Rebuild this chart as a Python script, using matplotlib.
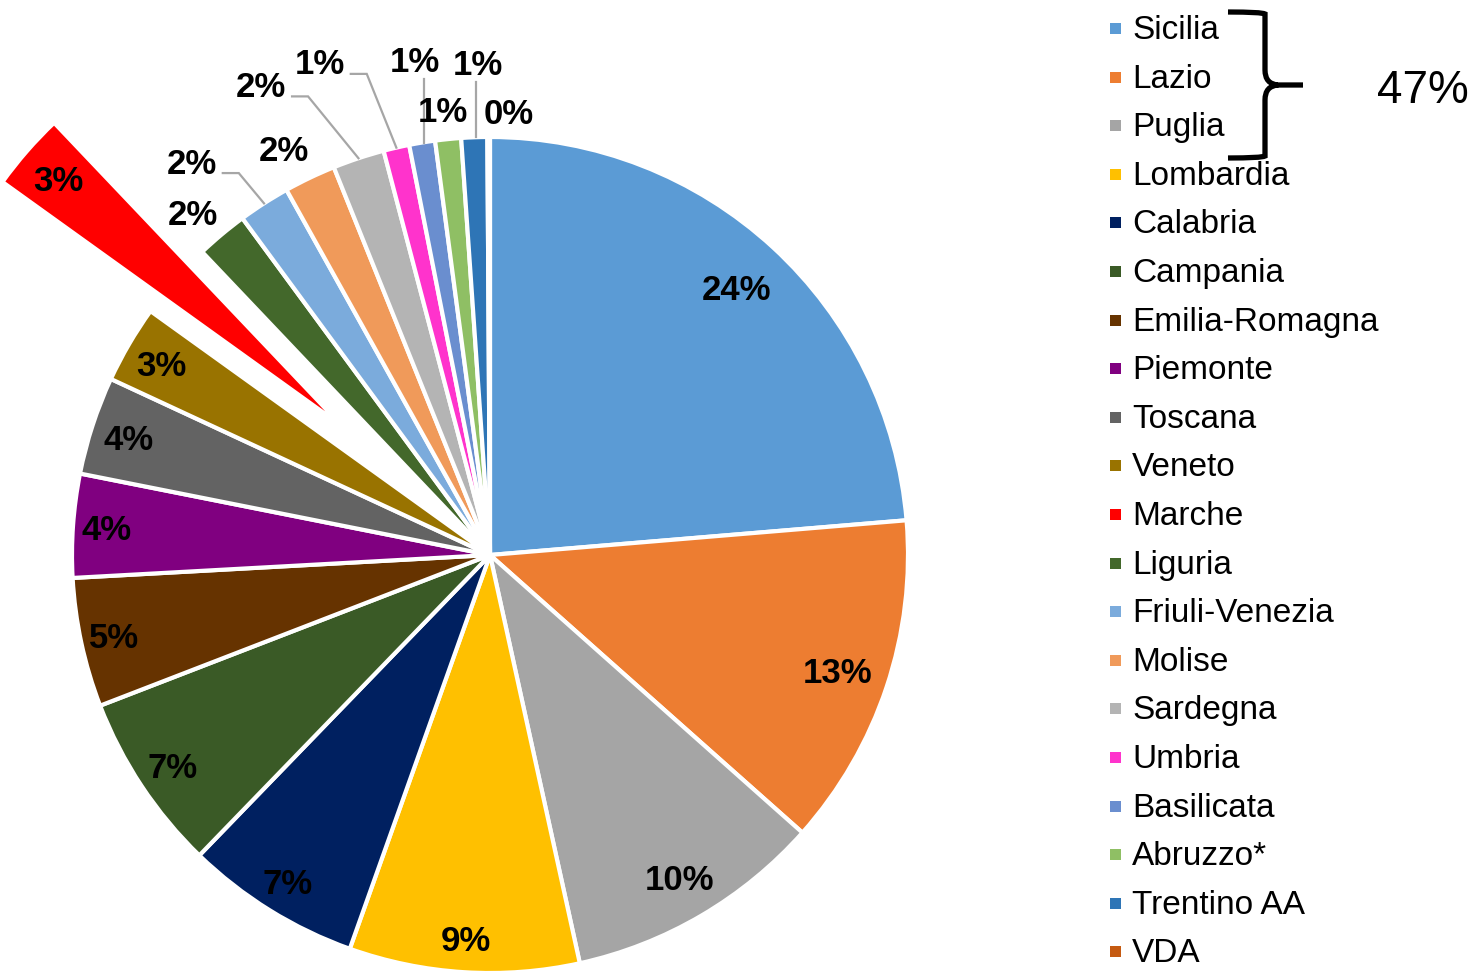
import numpy as np
import matplotlib
matplotlib.use("Agg")
import matplotlib.pyplot as plt
from matplotlib.path import Path
from matplotlib.patches import PathPatch, Rectangle

# ---------------- data ----------------
regions = ["Sicilia", "Lazio", "Puglia", "Lombardia", "Calabria", "Campania",
           "Emilia-Romagna", "Piemonte", "Toscana", "Veneto", "Marche", "Liguria",
           "Friuli-Venezia", "Molise", "Sardegna", "Umbria", "Basilicata",
           "Abruzzo*", "Trentino AA", "VDA"]
shares = [23.7, 12.9, 10.0, 8.9, 6.8, 6.9, 5.0, 4.0, 3.8, 3.0, 3.0, 2.0,
          2.0, 2.0, 2.0, 1.0, 1.0, 1.0, 1.0, 0.1]
top3_total_label = "47%"

# ---------------- style ----------------
colors = ["#5B9BD5", "#ED7D31", "#A5A5A5", "#FFC000", "#002060", "#3A5A26",
          "#663300", "#800080", "#636363", "#997300", "#FF0000", "#43682B",
          "#7BABDC", "#F09A5A", "#B4B4B4", "#FF33CC", "#6A8ECF", "#8FBF64",
          "#2E75B6", "#C55A11"]
explode = [0.0] * len(shares)
explode[regions.index("Marche")] = 0.47

# label placement: (angle offset in deg from wedge mid, clockwise; radial factor)
label_place = [(0, 0.87), (0, 0.876), (0, 0.895), (0, 0.92), (0, 0.92), (0, 0.91),
               (0, 0.92), (0, 0.92), (0, 0.91), (0, 0.91), (0, 0.90), (-1.0, 1.085),
               (-4.4, 1.182), (-1.4, 1.091), (-7.6, 1.252), (-6.1, 1.248),
               (0.7, 1.198), (-0.3, 1.072), (0.7, 1.178), (2.6, 1.063)]
leader = {"Friuli-Venezia": "elbow", "Sardegna": "elbow", "Umbria": "elbow",
          "Basilicata": "vert", "Trentino AA": "vert"}

W, H = 1481, 973
CX, CY, R = 490, 555, 418   # pie centre / radius in pixels

plt.rcParams['font.family'] = ['Liberation Sans', 'DejaVu Sans']
fig = plt.figure(figsize=(W / 100, H / 100), dpi=100)

ax = fig.add_axes([0, 0, 1, 1])
wedges, _ = ax.pie(shares, colors=colors, explode=explode, startangle=90,
                   counterclock=False, radius=1.0, center=(0, 0),
                   wedgeprops=dict(edgecolor="white", linewidth=3))
ax.set_aspect("auto")
ax.set_xlim(-CX / R, (W - CX) / R)
ax.set_ylim((CY - H) / R, CY / R)
ax.axis("off")

total = sum(shares)
fs_lab = 25
fs_leg = 24
for i, w in enumerate(wedges):
    mid = 0.5 * (w.theta1 + w.theta2)          # standard degrees
    off, rf = label_place[i]
    ang = np.deg2rad(mid - off)
    cx, cy = w.center
    lx, ly = cx + rf * np.cos(ang), cy + rf * np.sin(ang)
    pct = f"{round(shares[i] / total * 100)}%"
    ax.text(lx, ly - 3 / R, pct, ha="center", va="center", fontsize=fs_lab,
            fontweight="bold", color="black")
    kind = leader.get(regions[i])
    if kind:
        ex, ey = cx + np.cos(np.deg2rad(mid)), cy + np.sin(np.deg2rad(mid))
        if kind == "elbow":
            x0 = lx + 31 / R
            y0 = ly - 12 / R
            x1 = x0 + 16 / R
            ax.plot([x0, x1, ex], [y0, y0, ey], color="#A6A6A6", lw=1.6,
                    solid_joinstyle="miter")
        else:
            ax.plot([ex + 2 / R, ex + 2 / R], [ly - 19 / R, ey], color="#A6A6A6", lw=1.6)

# ---------------- legend / brace (pixel overlay) ----------------
ov = fig.add_axes([0, 0, 1, 1], facecolor="none")
ov.set_xlim(0, W)
ov.set_ylim(H, 0)
ov.axis("off")
pitch = 48.6
for i, (name, c) in enumerate(zip(regions, colors)):
    yb = 39 + pitch * i
    ov.add_patch(Rectangle((1110, yb - 16), 11, 11, facecolor=c, edgecolor="none"))
    ov.text(1132, yb, name, fontsize=fs_leg, ha="left", va="baseline", color="black")

# curly brace
verts = [(1228, 12), (1262, 12), (1265, 14), (1265, 40),
         (1265, 70), (1265, 84), (1278, 85), (1303, 85),
         (1278, 85), (1265, 86), (1265, 100), (1265, 130),
         (1265, 156), (1262, 158), (1228, 158)]
codes = [Path.MOVETO, Path.CURVE3, Path.CURVE3, Path.LINETO,
         Path.LINETO, Path.CURVE3, Path.CURVE3, Path.LINETO,
         Path.MOVETO, Path.CURVE3, Path.CURVE3, Path.LINETO,
         Path.LINETO, Path.CURVE3, Path.CURVE3]
ov.add_patch(PathPatch(Path(verts, codes), facecolor="none", edgecolor="black",
                       lw=3.8, capstyle="butt"))
ov.text(1423, 103, top3_total_label, fontsize=33, ha="center", va="baseline",
        color="black")

fig.savefig("out.png", dpi=100)
